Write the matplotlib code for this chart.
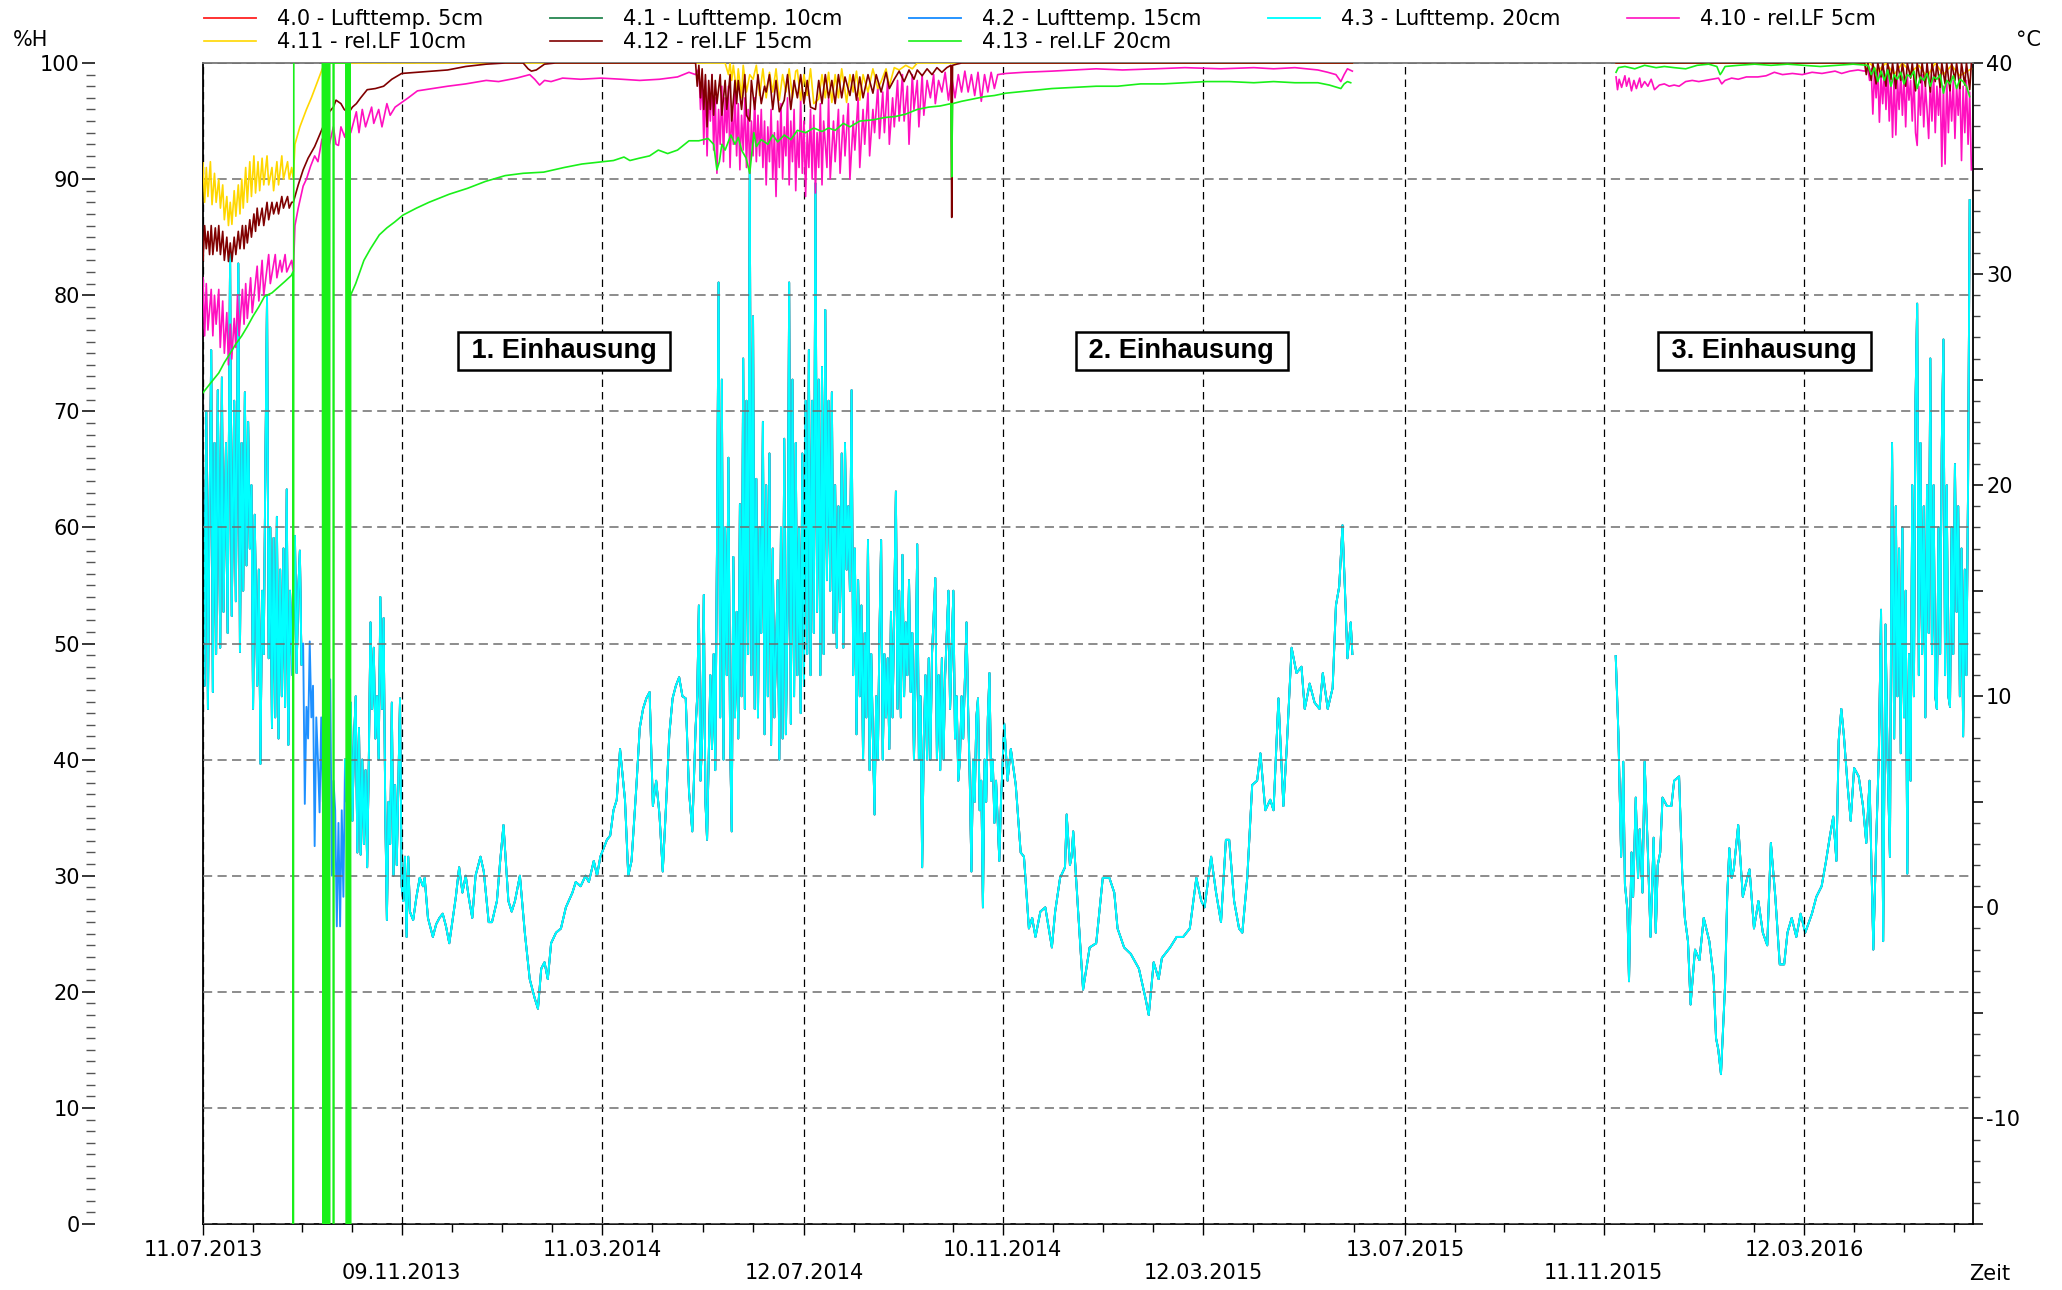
import numpy as np
import matplotlib
matplotlib.use("Agg")
import matplotlib.pyplot as plt
import matplotlib.dates as mdates
from matplotlib.ticker import FixedLocator, MultipleLocator, FuncFormatter

# time axis: day offsets from 11.07.2013
START = np.datetime64("2013-07-11")
X_END = 1078

tick_dates = ["2013-07-11", "2013-11-09", "2014-03-11", "2014-07-12", "2014-11-10",
              "2015-03-12", "2015-07-13", "2015-11-11", "2016-03-12"]
tick_labels = ["11.07.2013", "09.11.2013", "11.03.2014", "12.07.2014", "10.11.2014",
               "12.03.2015", "13.07.2015", "11.11.2015", "12.03.2016"]

series_names = ["4.0 - Lufttemp. 5cm", "4.1 - Lufttemp. 10cm", "4.2 - Lufttemp. 15cm",
                "4.3 - Lufttemp. 20cm", "4.10 - rel.LF 5cm", "4.11 - rel.LF 10cm",
                "4.12 - rel.LF 15cm", "4.13 - rel.LF 20cm"]
series_colors = ["#ff2a2a", "#2e8b57", "#1e90ff", "#00ffff",
                 "#ff10c0", "#ffd700", "#800000", "#19f019"]

# air temperature (deg C): (day, value)
temp_a = [(0, 22.0), (1, 10.5), (2, 23.5), (3, 9.4), (4, 19.0), (5, 26.4), (6, 10.2), (7, 22.0),
          (8, 12.0), (9, 24.5), (10.5, 12.3), (11.5, 25.1), (12.5, 14.0), (14, 22.0), (15, 13.0),
          (16.5, 31.0), (17.5, 13.8), (19, 24.0), (20, 14.5), (21.5, 30.5), (22.5, 12.1), (23.5, 22.0),
          (24.5, 15.0), (25.5, 24.4), (26.5, 16.2), (27.5, 23.0), (28.5, 17.0), (29.5, 20.0),
          (30.5, 9.4), (31.5, 18.6), (33, 10.5), (34, 16.0), (35, 6.8), (36, 15.0), (37, 12.0),
          (38, 21.0), (39, 29.0), (40, 11.8), (41, 18.0), (42, 8.5), (43, 17.5), (44, 9.0),
          (45, 18.5), (46, 8.0), (47, 16.0), (48, 10.0), (49, 17.0), (50, 9.5), (51, 19.8),
          (52, 7.7), (53, 15.0), (54.5, 11.0), (56, 17.6), (57, 11.1), (58, 15.0), (59, 16.9),
          (60, 11.5)]

# only the 15cm sensor logged here
temp_gap_15cm = [(61, 12.5), (62, 4.9), (63, 9.5), (64, 8.0), (65, 12.6), (66, 9.0), (67, 10.5),
                 (68, 2.9), (69, 9.0), (70, 7.0), (71, 4.5), (72, 9.0), (73, 5.0), (74, 7.5),
                 (75, 4.5), (76, 8.0), (77.5, 10.8), (78.5, 1.5), (79.5, 6.0), (80.5, 4.6),
                 (81.5, -0.9), (82.5, 4.0), (83.5, -0.9), (84.5, 4.6), (85.5, 0.5)]

temp_b = [(86.5, 7.0), (87.5, 5.0), (88.5, 9.0), (90, 9.7), (91, 4.1), (92, 8.0), (93, 10.0),
          (94, 2.6), (95, 8.5), (96, 2.5), (97, 7.0), (98, 3.0), (99, 6.5), (100, 1.9), (101, 7.0),
          (102, 13.5), (103, 9.4), (104, 12.3), (105, 8.0), (106, 10.0), (107, 7.0), (108, 14.7),
          (109, 9.4), (110, 13.7), (111, 4.6), (112, -0.6), (113, 5.0), (114, 3.0), (115, 9.7),
          (116, 1.5), (117, 5.8), (118, 2.0), (119, 6.0), (120, 9.9), (121, 1.0), (122, 0.3),
          (123, 2.4), (124, -1.4), (125, 2.4), (126, -0.2), (128, -0.6), (130, 0.5), (132, 1.4),
          (134, 1.0), (135, 1.4), (137, -0.5), (140, -1.4), (142, -0.8), (144, -0.5), (146, -0.3),
          (148, -0.9), (150, -1.7), (152, -0.6), (154, 0.5), (156, 1.9), (158, 0.7), (160, 1.5),
          (162, 0.4), (164, -0.5), (166, 1.5), (169, 2.4), (171, 1.7), (174, -0.7), (176, -0.7),
          (179, 0.3), (181, 2.2), (183, 3.9), (186, 0.3), (188, -0.2), (190, 0.3), (193, 1.5),
          (196, -1.2), (199, -3.4), (202, -4.3), (204, -4.8), (206, -2.9), (208, -2.6),
          (210, -3.4), (212, -1.7), (215, -1.2), (218, -1.0), (221, 0.0), (225, 0.7), (227, 1.2),
          (230, 1.0), (233, 1.5), (235, 1.2), (238, 2.2), (240, 1.5), (242, 2.4), (246, 3.2),
          (248, 3.4), (250, 4.6), (252, 5.1), (254, 7.5), (257, 5.1), (259, 1.5), (261, 2.2),
          (264, 5.8), (266, 8.5), (268, 9.4), (270, 9.9), (272, 10.2), (274, 4.8), (276, 6.0),
          (278, 4.4), (280, 1.7), (282, 4.8), (284, 8.2), (286, 9.9), (288, 10.5), (290, 10.9),
          (292, 10.0), (294, 9.9), (296, 5.5), (298, 3.6), (300, 8.5), (301, 10.0), (302, 14.3),
          (303, 6.0), (304, 8.0), (305, 14.8), (306, 5.0), (307, 3.2), (308, 7.0), (309, 11.0),
          (310, 7.5), (311, 12.0), (312, 6.5), (313, 16.7), (314, 29.6), (315, 9.0), (316, 25.0),
          (317, 7.0), (318, 18.0), (319, 11.0), (320, 21.3), (321, 8.0), (322, 3.6), (323, 16.6),
          (324, 9.0), (325, 14.0), (326, 8.0), (327, 19.1), (328, 10.0), (329, 26.0), (330, 9.4),
          (331, 24.0), (332, 12.0), (333, 34.9), (334, 11.0), (335, 28.0), (336, 9.4), (337, 20.3),
          (338, 9.0), (339, 18.0), (340, 13.0), (341, 23.0), (342, 8.2), (343, 20.0), (344, 10.0),
          (345, 21.5), (346, 7.7), (347, 17.0), (348, 9.0), (350, 15.5), (351, 7.0), (352, 18.0),
          (353, 8.0), (354, 22.2), (355, 8.2), (356, 14.0), (357, 29.6), (358, 8.7), (359, 25.0),
          (360, 10.0), (361, 22.0), (362, 11.0), (363, 18.0), (364, 9.2), (365, 21.5), (366, 10.5),
          (367, 24.0), (368, 12.0), (369, 26.4), (370, 11.0), (371, 24.0), (372, 13.0), (373, 34.3),
          (374, 14.0), (375, 25.0), (376, 11.0), (377, 25.6), (378, 12.0), (379, 28.3), (380, 15.5),
          (381, 24.0), (382, 15.0), (383, 24.4), (384, 13.0), (385, 20.0), (386, 12.3), (387, 19.0),
          (388, 14.0), (389, 21.5), (390, 12.3), (391, 22.0), (392, 16.0), (393, 19.0), (394, 15.0),
          (395, 24.5), (396, 11.0), (397, 17.0), (398, 8.2), (399, 15.5), (400, 10.0), (401, 14.3),
          (402, 7.0), (403, 13.0), (404, 9.0), (405, 17.4), (406, 6.5), (407, 12.0), (408, 8.0),
          (409, 4.4), (410, 10.0), (411, 7.0), (412, 13.0), (413, 17.4), (414, 7.0), (415, 12.0),
          (416, 9.0), (417, 11.8), (418, 7.5), (419, 14.0), (420, 9.0), (422, 19.7), (423, 9.4),
          (424, 15.0), (425, 9.0), (426, 16.7), (427, 10.0), (428, 13.5), (429, 11.0), (430, 15.5),
          (431, 10.2), (432, 13.0), (433, 7.0), (434, 11.0), (435, 17.2), (436, 7.0), (437, 10.0),
          (438, 1.9), (439, 8.0), (440, 11.0), (441, 7.0), (442, 11.8), (443, 7.0), (444, 12.0),
          (446, 15.6), (447, 7.0), (448, 11.0), (449, 6.5), (450, 11.8), (451, 7.0), (452, 11.0),
          (454, 15.0), (455, 9.4), (457, 15.0), (458, 8.0), (459, 10.0), (460, 6.0), (461, 7.0),
          (462, 10.0), (463, 8.0), (465, 13.5), (466, 9.4), (467, 6.0), (468, 1.7), (469, 7.0),
          (470, 5.0), (471, 9.0), (472, 9.9), (473, 4.6), (474, 6.0), (475, 0.0), (476, 7.0),
          (477, 5.0), (478, 9.0), (479, 11.1), (480, 6.0), (481, 7.0), (482, 4.0), (483, 6.0),
          (485, 2.2), (486, 5.0), (488, 8.7), (490, 6.0), (492, 7.5), (495, 5.8), (498, 2.6),
          (500, 2.4), (503, -1.0), (505, -0.5), (507, -1.4), (510, -0.2), (513, 0.0), (517, -1.9),
          (519, -0.2), (522, 1.4), (525, 1.9), (526, 4.4), (528, 2.0), (529, 2.4), (530, 3.6),
          (533, -0.2), (536, -3.9), (540, -1.9), (544, -1.7), (548, 1.4), (552, 1.4), (555, 0.7),
          (557, -1.0), (561, -1.9), (565, -2.2), (570, -2.9), (574, -4.3), (576, -5.1), (579, -2.6),
          (582, -3.4), (584, -2.4), (589, -1.9), (593, -1.4), (597, -1.4), (601, -1.0), (605, 1.4),
          (608, 0.3), (610, 0.0), (614, 2.4), (617, 0.7), (620, -0.7), (623, 3.2), (625, 3.2),
          (628, 0.3), (631, -1.0), (633, -1.2), (636, 1.4), (639, 5.8), (642, 6.0), (644, 7.3),
          (647, 4.6), (650, 5.1), (652, 4.6), (655, 9.9), (658, 4.8), (660, 7.5), (663, 12.3),
          (666, 11.1), (669, 11.4), (671, 9.4), (674, 10.6), (677, 9.7), (680, 9.4), (682, 11.1),
          (685, 9.4), (688, 10.4), (690, 14.3), (692, 15.2), (694, 18.1), (696, 14.0), (697, 11.8),
          (699, 13.5), (700, 12.0)]

temp_c = [(860.4, 11.9), (862, 8.3), (863.7, 2.4), (865, 6.9), (866, 1.1), (867.5, -0.1),
          (868.5, -3.5), (870, 2.6), (871, 0.5), (872.6, 5.2), (874, 1.4), (875, 3.7), (876.7, 0.7),
          (878, 6.9), (880, 2.6), (881.6, -1.4), (883.5, 3.3), (884.8, -1.2), (886, 2.0),
          (887.5, 2.6), (888.9, 5.2), (891.6, 4.8), (894.3, 4.8), (896, 6.0), (899, 6.2),
          (901, 1.4), (902.5, -0.5), (904.4, -1.6), (906, -4.6), (908.7, -2.0), (911.4, -2.5),
          (914, -0.5), (917.4, -1.6), (920, -3.3), (921.5, -6.2), (922.8, -6.7), (924.5, -7.9),
          (927, -3.7), (928.3, 0.5), (929.6, 2.8), (931, 1.4), (932.3, 1.8), (935, 3.9),
          (937.8, 0.5), (940.5, 1.4), (941.9, 1.8), (944.6, -1.0), (947.3, 0.3), (950, -1.2),
          (952.7, -1.8), (954.9, 3.05), (957.6, 0.5), (960.3, -2.7), (963, -2.7), (965, -1.2),
          (967.6, -0.5), (970.4, -1.4), (973, -0.3), (975.8, -1.2), (979.9, -0.3), (982.6, 0.5),
          (985.8, 1.0), (988.5, 2.2), (990.7, 3.3), (992.9, 4.3), (994.8, 2.2), (996.2, 7.9),
          (997.8, 9.4), (999.4, 8.1), (1001.6, 5.8), (1003.5, 4.1), (1005.6, 6.6), (1008.4, 6.2),
          (1011, 4.8), (1013, 3.05), (1015, 6.0), (1017.3, -2.0), (1019, 3.0), (1020.6, 7.1),
          (1022, 14.1), (1023.3, -1.6), (1024.7, 13.4), (1026, 6.9), (1027.4, 2.4), (1028.7, 22.0),
          (1030, 8.0), (1031, 19.0), (1032, 10.0), (1033, 17.0), (1034, 7.3), (1035, 18.0),
          (1036, 9.0), (1037, 15.0), (1038, 1.6), (1039, 12.0), (1040, 6.0), (1041, 20.0),
          (1042, 10.0), (1043, 24.0), (1044, 28.6), (1045, 11.0), (1046, 22.0), (1047, 12.0),
          (1048, 19.0), (1049, 9.0), (1050, 20.0), (1051, 13.0), (1052, 26.0), (1053, 12.0),
          (1054, 20.0), (1055, 10.0), (1056, 9.4), (1057, 18.0), (1058, 12.0), (1059, 22.0),
          (1060, 26.9), (1061, 11.0), (1062, 20.0), (1063, 10.0), (1064, 9.5), (1065, 18.0),
          (1066, 12.0), (1067, 21.0), (1068, 14.0), (1069, 19.0), (1070, 10.0), (1071, 17.0),
          (1072, 8.1), (1073, 16.0), (1074, 11.0), (1075, 20.0), (1076, 33.5)]

# relative humidity (%H)
rh5_a = [(0, 81.5), (1, 76.5), (2, 81.0), (3, 77.0), (5, 80.5), (6, 76.5), (7, 80.0), (8, 77.5),
         (9.6, 80.5), (10.5, 75.5), (12, 79.5), (13, 75.0), (14.5, 78.5), (15.5, 74.0), (16.6, 77.5),
         (17.5, 74.5), (19, 78.0), (20, 75.5), (21, 80.0), (22, 76.5), (24, 80.5), (25, 77.5),
         (26, 81.0), (27, 78.0), (29, 81.5), (30, 78.5), (33, 82.5), (34, 79.5), (36, 83.0),
         (37, 80.0), (40, 83.5), (41, 81.0), (44, 83.5), (45, 81.5), (47, 83.0), (48, 82.0),
         (50, 83.5), (51, 82.0), (54, 83.0), (55, 82.0), (56, 86.0), (58, 87.5), (61, 89.4),
         (63, 90.0), (65.5, 91.1), (68, 92.0), (70, 91.5), (72.4, 93.4), (75, 94.0), (77, 93.0),
         (79.4, 94.5), (81, 93.0), (82.5, 92.9), (84, 94.5), (86.4, 93.6), (88, 95.0), (90, 94.0),
         (93.4, 95.8), (95, 94.0), (97, 96.0), (99, 94.5), (102.7, 96.2), (104, 94.8), (107, 96.0),
         (109, 94.5), (112, 96.5), (114, 95.5), (117, 96.2), (121, 96.6), (125, 97.0),
         (130.6, 97.6), (140, 97.8), (149, 98.0), (160, 98.2), (172.5, 98.5), (180, 98.4),
         (191, 98.7), (199, 99.0), (202, 98.6), (205, 98.1), (208, 98.5), (212, 98.4), (219, 98.7),
         (230, 98.6), (242.4, 98.7), (255, 98.6), (266, 98.5), (278, 98.6), (289, 98.8),
         (296, 99.2), (300, 99.0), (302, 99.5), (303, 96.0), (304, 99.0), (305, 93.0), (306, 98.5),
         (307, 92.0), (308, 97.5), (309, 95.0), (310, 99.0), (311, 92.5), (312, 97.0), (313, 90.5),
         (314, 96.0), (315, 93.0), (316, 98.0), (317, 91.5), (318, 97.0), (319, 94.0), (320, 98.0),
         (321, 91.0), (322, 96.0), (323, 93.0), (324, 97.5), (325, 92.0), (326, 96.5), (327, 90.8),
         (328, 95.5), (329, 92.5), (330, 97.0), (331, 91.0), (332, 96.0), (333, 90.5), (334, 95.0),
         (335, 92.0), (336, 97.0), (337, 91.5), (338, 95.5), (339, 92.0), (340, 96.0), (341, 91.0),
         (342, 95.0), (343, 89.5), (344, 94.5), (345, 91.5), (346, 96.0), (347, 90.0), (348, 94.0),
         (349, 88.5), (350, 95.0), (351, 91.0), (352, 96.5), (353, 90.0), (354, 94.5), (355, 92.0),
         (356, 97.0), (357, 89.5), (358, 95.0), (359, 91.5), (360, 96.0), (361, 89.0), (362, 94.0),
         (363, 91.0), (364, 97.0), (365, 90.5), (366, 95.0), (367, 88.5), (368, 94.0), (369, 91.0),
         (370, 96.0), (371, 90.0), (372, 95.5), (373, 88.8), (374, 94.0), (375, 91.0), (376, 96.5),
         (377, 89.5), (378, 95.0), (380, 91.0), (381, 97.0), (382, 90.0), (384, 95.0), (385, 91.5),
         (387, 96.0), (388, 90.5), (390, 95.5), (391, 92.0), (393, 96.5), (394, 90.0), (396, 95.0),
         (397, 92.5), (399, 97.0), (400, 91.0), (402, 96.0), (403, 93.0), (405, 97.5), (406, 92.0),
         (408, 96.0), (409, 94.0), (411, 98.0), (412, 93.5), (414, 97.5), (415, 94.0), (417, 98.5),
         (418, 93.0), (420, 97.0), (421, 94.5), (423, 98.5), (424, 95.0), (426, 99.0), (427, 95.0),
         (429, 98.0), (430, 93.0), (432, 99.0), (433, 96.0), (435, 98.5), (436, 94.5), (438, 99.0),
         (439, 95.5), (441, 98.5), (443, 97.0), (445, 99.0), (446, 96.5), (448, 98.5), (450, 97.5),
         (452, 99.2), (454, 96.8), (456, 98.8), (458, 97.0), (460, 99.0), (462, 97.5), (464, 99.3),
         (466, 97.5), (468, 99.0), (470, 97.2), (472, 99.2), (474, 96.7), (476, 99.0), (478, 97.5),
         (480, 99.2), (482, 97.8), (484, 99.0), (489, 99.1), (500, 99.2), (517, 99.3), (530, 99.4),
         (544, 99.5), (560, 99.4), (580, 99.5), (598, 99.6), (620, 99.5), (640, 99.6), (652, 99.5),
         (665, 99.6), (679, 99.4), (685, 99.2), (690, 99.0), (693, 98.4), (695, 99.0), (697, 99.5),
         (700, 99.3)]
rh5_c = [(860.6, 98.8), (861.5, 97.7), (862.5, 98.6), (864, 97.9), (866, 98.9), (867, 98.0),
         (868.5, 98.7), (870, 97.6), (871.5, 98.5), (873, 97.8), (875, 98.7), (876, 97.9),
         (878, 98.4), (880, 98.0), (882, 98.6), (884, 97.7), (887, 98.1), (890, 98.2), (893, 98.0),
         (896, 98.1), (899, 98.0), (903, 98.4), (907, 98.5), (911, 98.4), (915, 98.5), (919, 98.6),
         (923, 98.7), (925, 98.2), (927, 98.5), (931, 98.7), (935, 98.6), (940, 98.8), (947, 98.8),
         (952, 98.9), (957, 99.2), (962, 99.0), (968, 99.1), (974, 99.0), (980, 99.2), (986, 99.1),
         (994, 99.3), (998, 99.1), (1003, 99.3), (1008, 99.4), (1012, 99.3), (1014, 99.5),
         (1015, 98.5), (1016, 99.5), (1017, 95.6), (1018, 99.3), (1019, 97.0), (1020, 99.4),
         (1021, 94.9), (1022, 99.0), (1023, 96.5), (1024, 99.3), (1025, 96.0), (1026, 99.5),
         (1027, 95.0), (1028, 98.8), (1029, 93.6), (1030, 99.0), (1031, 93.8), (1032, 98.5),
         (1033, 96.0), (1034, 99.2), (1035, 95.5), (1036, 98.8), (1037, 94.5), (1038, 99.0),
         (1039, 96.8), (1040, 98.5), (1041, 95.0), (1042, 99.0), (1043, 94.0), (1044, 92.9),
         (1045, 98.0), (1046, 95.5), (1047, 99.0), (1048, 94.5), (1049, 98.0), (1050, 96.0),
         (1051, 93.5), (1052, 98.5), (1053, 95.0), (1054, 99.0), (1055, 94.0), (1056, 98.0),
         (1057, 95.5), (1058, 98.5), (1059, 91.1), (1060, 98.0), (1061, 91.3), (1062, 98.5),
         (1063, 94.0), (1064, 98.0), (1065, 95.0), (1066, 98.5), (1067, 93.5), (1068, 98.0),
         (1069, 95.5), (1070, 98.5), (1071, 91.6), (1072, 98.0), (1073, 94.0), (1074, 98.5),
         (1075, 93.0), (1076, 97.5), (1077, 90.8)]

rh10_a = [(0, 91.4), (1, 88.0), (2, 91.0), (3, 88.5), (4.5, 91.5), (5.5, 87.8), (7, 90.5), (8, 88.0),
          (9.6, 90.0), (10.6, 87.5), (12, 89.5), (13, 86.5), (14.5, 88.5), (15.5, 86.0), (16.6, 88.0),
          (17.6, 86.1), (19, 89.0), (20, 86.8), (21.5, 89.5), (22.5, 87.0), (23.6, 90.0), (24.5, 87.5),
          (26, 91.0), (27, 88.0), (28.5, 91.5), (29.5, 88.5), (31, 92.0), (32, 88.8), (33.5, 91.5),
          (34.5, 89.0), (36, 91.8), (37, 89.5), (39, 92.0), (40, 89.5), (42, 91.0), (43, 89.0),
          (45, 91.5), (46, 89.5), (48, 92.0), (49, 90.0), (51.5, 91.5), (52.5, 90.0), (54, 91.0),
          (55, 90.0), (56, 93.0), (59, 94.5), (63, 96.0), (66, 97.0), (70, 98.5), (74, 100.0),
          (318, 100.0), (320, 99.0), (321, 100.0), (322, 98.5), (323, 99.8), (325, 97.5), (326, 99.5),
          (328, 97.0), (329, 99.8), (331, 97.5), (333, 99.0), (335, 98.6), (337, 99.8), (339, 97.2),
          (341, 99.5), (343, 97.0), (345, 99.2), (347, 97.5), (349, 99.5), (351, 96.8), (353, 99.0),
          (355, 97.5), (357, 99.5), (359, 97.0), (361, 99.3), (362, 99.4), (364, 96.8), (366, 99.0),
          (368, 97.2), (370, 99.5), (372, 96.5), (375, 96.9), (377, 99.0), (379, 97.0), (381, 99.2),
          (383, 96.6), (385, 99.0), (387, 97.0), (389, 99.5), (392, 96.6), (394, 99.0), (396, 97.5),
          (398, 99.3), (400, 96.8), (402, 99.0), (405, 97.5), (408, 99.5), (411, 97.8), (413, 98.4),
          (416, 99.5), (418, 98.0), (421, 99.6), (424, 99.4), (428, 99.8), (432, 99.5), (435, 100.0),
          (700, 100.0)]
rh10_c = [(860.6, 100.0), (1015, 100.0), (1020, 99.3), (1025, 100.0), (1030, 99.0), (1035, 100.0),
          (1040, 99.2), (1045, 99.8), (1050, 98.8), (1055, 100.0), (1060, 99.0), (1065, 99.8),
          (1070, 98.9), (1077, 99.5)]

rh15_a = [(0, 83.0), (1, 86.0), (2, 84.0), (3, 85.5), (4, 83.5), (5, 86.0), (6, 83.5), (7.5, 85.8),
          (8.5, 83.8), (9.6, 86.0), (10.6, 83.5), (12, 85.5), (13, 83.0), (14.5, 85.0), (15.5, 82.9),
          (16.6, 84.5), (17.6, 82.9), (19, 85.0), (20, 83.5), (21.5, 85.5), (22.5, 84.0), (24, 86.0),
          (25, 84.0), (26, 86.0), (27, 84.5), (28.5, 86.5), (29.5, 85.0), (31, 87.0), (32, 85.5),
          (33, 87.5), (34, 86.0), (36, 87.5), (37, 86.0), (39, 88.0), (40, 86.5), (42, 88.0),
          (43, 87.0), (45, 88.0), (46, 87.0), (48, 88.5), (49, 87.5), (51.5, 88.5), (52.5, 87.5),
          (54, 88.0), (55, 88.0), (58, 89.5), (61, 90.8), (64, 91.8), (68, 92.8), (71, 93.8),
          (74, 94.8), (77, 95.8), (79.4, 96.2), (81, 96.8), (83, 96.6), (84, 96.5), (86, 96.0),
          (88.7, 95.7), (91, 96.2), (93.4, 96.5), (96, 97.0), (100, 97.7), (105, 97.8), (110, 98.0),
          (115, 98.6), (121, 99.1), (130.6, 99.2), (140, 99.3), (149, 99.4), (160, 99.7),
          (172.5, 99.9), (184, 100.0), (195, 100.0), (198, 99.5), (200, 99.3), (203, 99.4),
          (205, 99.6), (208, 99.9), (214.5, 100.0), (300, 100.0), (301, 98.0), (302, 99.8),
          (303, 97.0), (304, 99.5), (305, 96.0), (306, 99.0), (307, 94.5), (308, 98.5), (309, 96.0),
          (310, 99.0), (311, 95.5), (312, 98.5), (313, 96.5), (315, 99.0), (316, 95.5), (318, 98.5),
          (319, 96.0), (321, 99.0), (322, 95.0), (324, 98.5), (325, 96.5), (326, 98.5), (328, 96.0),
          (330, 99.0), (331, 95.5), (333, 95.0), (334, 98.5), (336, 96.0), (338, 99.0), (340, 96.5),
          (342, 98.0), (343, 97.5), (345, 99.0), (347, 96.0), (349, 98.5), (351, 95.8), (354, 96.8),
          (356, 99.0), (358, 96.0), (360, 98.5), (362, 97.0), (364, 99.0), (366, 96.5), (368, 98.5),
          (370, 96.2), (373, 96.0), (375, 98.5), (377, 96.5), (379, 99.0), (381, 97.0), (383, 98.5),
          (385, 96.5), (387, 99.0), (389, 97.0), (391, 98.8), (394, 97.2), (396, 99.0), (398, 96.8),
          (400, 98.8), (402, 97.0), (405, 99.0), (408, 97.4), (410, 99.0), (413, 97.5), (416, 99.2),
          (418, 97.8), (421, 98.6), (424, 99.3), (427, 98.4), (430, 99.4), (433, 98.6), (435, 99.4),
          (438, 98.9), (441, 99.5), (444, 99.0), (447, 99.6), (450, 99.2), (453, 99.6), (455.5, 99.8),
          (456, 86.7), (456.5, 99.8), (459, 99.9), (462, 100.0), (700, 100.0)]
rh15_c = [(860.6, 100.0), (1012, 100.0), (1013, 99.0), (1014, 100.0), (1016, 98.5), (1017, 100.0),
          (1019, 98.2), (1020, 100.0), (1022, 98.8), (1023, 100.0), (1025, 98.0), (1026, 100.0),
          (1028, 98.6), (1029, 100.0), (1031, 97.8), (1032, 100.0), (1034, 98.5), (1035, 100.0),
          (1037, 98.0), (1038, 100.0), (1040, 98.7), (1041, 100.0), (1043, 97.6), (1044, 100.0),
          (1046, 98.3), (1047, 100.0), (1049, 98.0), (1050, 100.0), (1052, 97.5), (1053, 100.0),
          (1055, 98.4), (1056, 100.0), (1058, 97.9), (1059, 100.0), (1061, 98.2), (1062, 100.0),
          (1064, 97.6), (1065, 100.0), (1067, 98.5), (1068, 100.0), (1070, 97.8), (1071, 100.0),
          (1073, 98.1), (1074, 100.0), (1076, 97.7), (1077, 100.0)]

# 20cm humidity sensor: drifts up, then drops out (0/100 bursts) in Sept 2013
rh20_a = [(0, 71.6), (5, 72.5), (9.6, 73.3), (13, 74.2), (16.6, 75.0), (20, 75.8), (23.6, 76.5),
          (27, 77.3), (30.5, 78.2), (34, 79.0), (37.5, 79.9), (42, 80.2), (46.8, 80.8), (50, 81.2),
          (53.8, 81.7), (54.8, 82.0), (55.0, 0.0), (55.3, 100.0)]
rh20_b = [(72.7, 100.0), (73.1, 0.0), (73.5, 100.0), (73.9, 0.0), (74.3, 100.0), (74.7, 0.0),
          (75.1, 100.0), (75.5, 0.0), (75.9, 100.0), (76.3, 0.0), (76.7, 100.0), (77.0, 0.0),
          (77.2, 100.0), (79.3, 100.0), (79.5, 0.0), (79.7, 100.0), (87.0, 100.0), (87.4, 0.0),
          (87.8, 100.0), (88.2, 0.0), (88.6, 100.0), (89.0, 0.0), (89.4, 100.0), (89.8, 0.0),
          (89.9, 80.0), (93, 81.0), (98, 83.0), (102, 84.0), (107.4, 85.2), (112, 85.8),
          (116.7, 86.3), (121.8, 86.9), (130, 87.5), (137.6, 88.0), (150, 88.7), (161, 89.2),
          (172, 89.8), (184, 90.3), (195, 90.5), (207.5, 90.6), (220, 91.0), (230.8, 91.3),
          (243.6, 91.5), (250, 91.6), (256.4, 91.9), (260, 91.6), (265.7, 91.8), (272, 92.0),
          (277.3, 92.5), (283, 92.2), (289, 92.5), (296, 93.3), (302, 93.3), (307.6, 93.5),
          (311, 93.0), (313, 90.8), (314.5, 91.5), (316, 93.0), (318, 92.5), (321.5, 93.8),
          (324, 93.0), (326, 93.6), (328, 92.5), (330.8, 91.8), (333, 90.5), (335.5, 94.0),
          (337, 92.8), (340, 93.4), (344, 93.0), (347, 93.8), (350, 93.2), (354, 93.8), (358, 93.4),
          (362, 94.2), (367, 94.0), (372, 94.4), (377, 94.1), (381, 94.4), (385, 94.2), (390, 94.8),
          (394, 94.5), (400, 95.0), (408, 95.1), (415, 95.3), (422, 95.4), (428, 95.6), (435, 96.0),
          (442, 96.2), (449, 96.3), (455.5, 96.5), (456, 90.2), (456.5, 96.5), (462, 96.7),
          (469, 96.9), (476, 97.1), (482, 97.2), (489, 97.4), (496, 97.5), (503, 97.6), (510, 97.7),
          (517, 97.8), (530, 97.9), (544, 98.0), (557, 98.0), (571, 98.2), (585, 98.2), (598, 98.3),
          (611, 98.4), (625, 98.4), (640, 98.3), (652, 98.4), (665, 98.3), (679, 98.3), (686, 98.1),
          (693, 97.8), (695, 98.2), (697, 98.4), (699, 98.3)]
rh20_c = [(860.6, 99.2), (862, 99.6), (866, 99.7), (872, 99.5), (878, 99.8), (885, 99.6), (890, 99.7),
          (896, 99.6), (903, 99.5), (910, 99.8), (917, 99.9), (922, 99.7), (924, 99.0), (925, 99.2),
          (927, 99.7), (935, 99.8), (945, 99.9), (955, 99.8), (965, 99.9), (975, 99.8), (985, 99.7),
          (995, 99.8), (1005, 99.9), (1014, 99.8), (1016, 99.0), (1018, 99.6), (1020, 98.4),
          (1022, 99.3), (1024, 98.5), (1026, 99.4), (1028, 98.0), (1030, 99.0), (1032, 98.6),
          (1034, 99.2), (1036, 98.2), (1038, 99.0), (1040, 98.8), (1042, 99.3), (1044, 97.8),
          (1046, 98.8), (1048, 98.5), (1050, 99.1), (1052, 98.0), (1054, 98.8), (1056, 98.6),
          (1058, 99.0), (1060, 97.4), (1062, 98.5), (1064, 98.2), (1066, 98.9), (1068, 97.8),
          (1070, 98.6), (1072, 98.4), (1074, 98.0), (1076, 97.1)]

enclosure_labels = ["1. Einhausung", "2. Einhausung", "3. Einhausung"]


def series(*segments):
    # join segments with a NaN break, days -> matplotlib date numbers
    xs, ys = [], []
    for seg in segments:
        if xs:
            xs.append(np.nan)
            ys.append(np.nan)
        for d, v in seg:
            xs.append(d)
            ys.append(v)
    x0 = mdates.date2num(START)
    return x0 + np.array(xs, float), np.array(ys, float)


def main():
    plt.rcParams["font.family"] = ["DejaVu Sans"]
    plt.rcParams["font.size"] = 15

    W, H = 2062, 1290
    fig = plt.figure(figsize=(W / 100, H / 100), dpi=100)
    ax_h = fig.add_axes([203 / W, 1 - 1224 / H, (1973 - 203) / W, (1224 - 63) / H])
    ax_t = ax_h.twinx()
    ax_h.set_zorder(ax_t.get_zorder() + 1)
    ax_h.patch.set_visible(False)

    x0 = mdates.date2num(START)

    # temperatures (right axis)
    temp_lines = []
    for i in range(4):
        if i == 2:
            x, y = series(temp_a + temp_gap_15cm + temp_b, temp_c)
        else:
            x, y = series(temp_a, temp_b, temp_c)
        ln, = ax_t.plot(x, y, color=series_colors[i], lw=1.35, label=series_names[i])
        temp_lines.append(ln)

    # humidity (left axis)
    hum_data = [series(rh5_a, rh5_c), series(rh10_a, rh10_c),
                series(rh15_a, rh15_c), series(rh20_a, rh20_b, rh20_c)]
    hum_lines = []
    for i, (x, y) in enumerate(hum_data):
        ln, = ax_h.plot(x, y, color=series_colors[4 + i], lw=1.2, label=series_names[4 + i])
        hum_lines.append(ln)

    ax_h.set_xlim(x0, x0 + X_END)
    ax_h.set_ylim(0, 100)
    ax_t.set_ylim(-15, 40)

    # x axis: date ticks, labels alternating on two rows
    major_x = mdates.date2num(np.array(tick_dates, dtype="datetime64[D]"))
    minor_x = []
    for a, b in zip(major_x[:-1], major_x[1:]):
        minor_x += list(np.linspace(a, b, 5)[1:-1])
    step = np.diff(major_x).mean() / 4
    minor_x += [major_x[-1] + k * step for k in (1, 2, 3)]
    ax_h.xaxis.set_major_locator(FixedLocator(major_x))
    ax_h.xaxis.set_minor_locator(FixedLocator(minor_x))
    ax_h.set_xticklabels(tick_labels)
    ax_h.tick_params(axis="x", which="major", direction="out", length=8, width=1.0, color="black")
    ax_h.tick_params(axis="x", which="minor", direction="out", length=5.8, width=1.0, color="black")
    for k, t in enumerate(ax_h.xaxis.get_major_ticks()):
        t.set_pad(3.2 if k % 2 == 0 else 19.8)

    # left axis: %H, ticks on a detached spine (108 px left of the frame)
    ax_h.spines["left"].set_position(("outward", 108 * 0.72))
    ax_h.spines["left"].set_visible(False)
    for s in ["top", "right", "bottom"]:
        ax_h.spines[s].set_visible(False)
    ax_h.yaxis.set_major_locator(MultipleLocator(10))
    ax_h.yaxis.set_minor_locator(MultipleLocator(1))
    ax_h.tick_params(axis="y", which="major", direction="out", length=9.4, width=1.1,
                     color="black", pad=1.5, labelsize=15)
    ax_h.tick_params(axis="y", which="minor", direction="out", length=6.5, width=1.0, color="#555555")

    # right axis: deg C
    ax_t.yaxis.set_major_locator(MultipleLocator(5))
    ax_t.yaxis.set_minor_locator(MultipleLocator(1))
    ax_t.yaxis.set_major_formatter(FuncFormatter(lambda v, p: f"{v:.0f}" if v % 10 == 0 else ""))
    ax_t.tick_params(axis="y", which="major", direction="out", length=7.2, width=1.1,
                     color="black", pad=2.2, labelsize=15)
    ax_t.tick_params(axis="y", which="minor", direction="out", length=4.8, width=1.0, color="#444444")
    for s in ["left", "right", "bottom", "top"]:
        ax_t.spines[s].set_visible(True)
        ax_t.spines[s].set_linewidth(1.3)
        ax_t.spines[s].set_color("black")
    ax_t.spines["top"].set_color("#777777")

    # grids
    ax_h.set_axisbelow(True)
    ax_h.grid(axis="y", which="major", color="#6e6e6e", linestyle=(0, (6, 3.5)), lw=1.1)
    ax_h.grid(axis="x", which="major", color="black", linestyle=(0, (6, 4)), lw=0.9)

    # enclosure boxes
    for d, txt in zip([220, 596, 951], enclosure_labels):
        ax_h.text(x0 + d, 75.2, " " + txt + " ", ha="center", va="center",
                  fontsize=19.5, fontweight="bold", family=["Liberation Sans", "DejaVu Sans"],
                  bbox=dict(boxstyle="square,pad=0.22", fc="white", ec="black", lw=1.8), zorder=5)

    # legend: columns filled first, so reorder to get the two rows
    order = [0, 5, 1, 6, 2, 7, 3, 4]
    handles = [(temp_lines + hum_lines)[i] for i in order]
    labels = [series_names[i] for i in order]
    fig.legend(handles, labels, loc="upper left", bbox_to_anchor=(204 / W, 1 - 9 / H),
               ncol=5, frameon=False, fontsize=15, handlelength=2.5, handletextpad=1.0,
               columnspacing=3.2, labelspacing=0.15, borderpad=0, borderaxespad=0)

    fig.text(13 / W, 1 - 40 / H, "%H", ha="left", va="center", fontsize=15)
    fig.text(2016 / W, 1 - 40 / H, "°C", ha="left", va="center", fontsize=15)
    fig.text(1969 / W, 1 - 1274 / H, "Zeit", ha="left", va="center", fontsize=15)

    fig.savefig("out.png", dpi=100, facecolor="white")
    plt.close(fig)


if __name__ == "__main__":
    main()
